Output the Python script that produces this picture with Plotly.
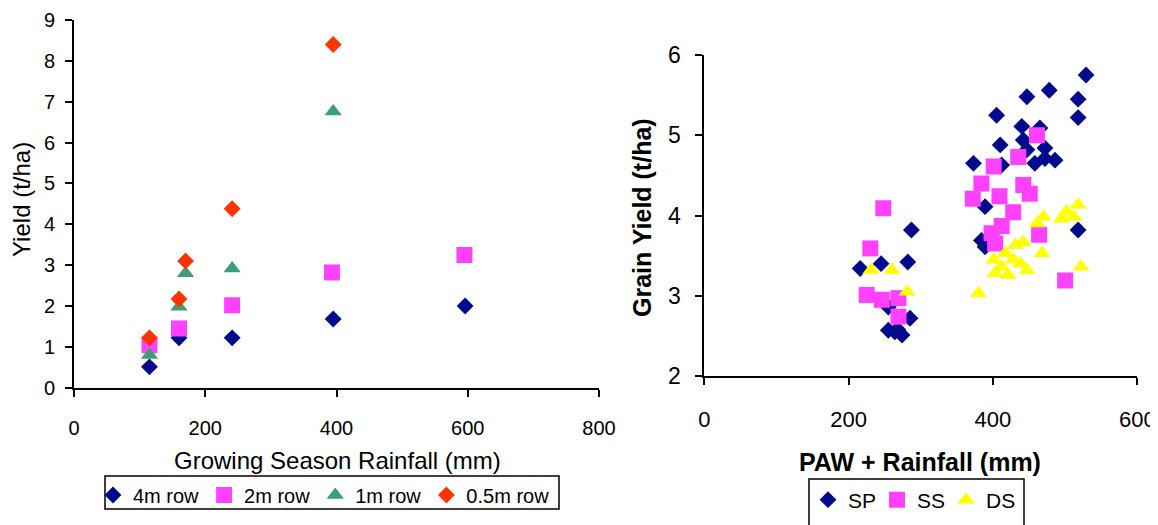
import plotly.graph_objects as go

# ---------------- Left chart data ----------------
left_names = ["4m row", "2m row", "1m row", "0.5m row"]
rain_4m = [115, 160, 241, 395, 596]
yield_4m = [0.51, 1.22, 1.22, 1.68, 2.0]
rain_2m = [115, 160, 241, 393, 595]
yield_2m = [1.04, 1.45, 2.02, 2.82, 3.25]
rain_1m = [115, 160, 170, 241, 395]
yield_1m = [0.8, 1.98, 2.8, 2.92, 6.76]
rain_05m = [115, 160, 170, 241, 395]
yield_05m = [1.22, 2.17, 3.1, 4.38, 8.4]
left_xticks = [0, 200, 400, 600, 800]
left_yticks = [0, 1, 2, 3, 4, 5, 6, 7, 8, 9]

# ---------------- Right chart data ----------------
right_names = ["SP", "SS", "DS"]
sp_x = [216, 245, 282, 287, 255, 285, 264, 255, 274, 268,
        529, 478, 447, 518, 518, 405, 440, 465, 442, 410, 472, 447,
        458, 486, 472, 373, 412, 389, 518, 384, 389, 395]
sp_y = [3.34, 3.40, 3.42, 3.82, 2.86, 2.72, 2.55, 2.57, 2.51, 2.58,
        5.75, 5.56, 5.48, 5.45, 5.22, 5.25, 5.11, 5.09, 4.94, 4.88, 4.84, 4.82,
        4.65, 4.69, 4.71, 4.65, 4.63, 4.11, 3.82, 3.69, 3.61, 3.66]
ss_x = [248, 230, 225, 246, 269, 269,
        461, 435, 401, 384, 372, 409, 442, 451, 428, 412, 398, 403, 464, 500]
ss_y = [4.09, 3.59, 3.01, 2.95, 2.97, 2.74,
        5.0, 4.73, 4.61, 4.40, 4.21, 4.24, 4.38, 4.27, 4.04, 3.87, 3.78, 3.65, 3.76, 3.19]
ds_x = [231, 260, 281,
        380, 518, 502, 512, 495, 470, 461, 522, 468, 442, 431, 417, 401,
        428, 447, 403, 421, 412, 438]
ds_y = [3.32, 3.32, 3.05,
        3.03, 4.13, 4.05, 3.98, 3.96, 3.98, 3.90, 3.36, 3.53, 3.67, 3.63, 3.53, 3.45,
        3.45, 3.32, 3.28, 3.26, 3.36, 3.40]
right_xticks = [0, 200, 400, 600]
right_yticks = [2, 3, 4, 5, 6]

FONT = "Arial, Liberation Sans, sans-serif"
NAVY = "#000A8C"
MAGENTA = "#FF40FF"
GREEN = "#3A9F74"
RED = "#FF3300"
YELLOW = "#FFFF00"

# The page body has an 8px margin, so the figure is 8px smaller and
# page pixel positions are converted to paper fractions here.
W, H, OFF = 1150, 517, 8


def fx(X):
    return (X - OFF) / W


def fy(Y):
    return (H - (Y - OFF)) / H


fig = go.Figure()

left_series = [
    (rain_4m, yield_4m, "diamond", NAVY, 13),
    (rain_2m, yield_2m, "square", MAGENTA, 16),
    (rain_1m, yield_1m, "triangle-up", GREEN, 15),
    (rain_05m, yield_05m, "diamond", RED, 13),
]
for name, (xs, ys, sym, col, sz) in zip(left_names, left_series):
    fig.add_trace(go.Scatter(x=xs, y=ys, mode="markers", name=name,
                             marker=dict(symbol=sym, color=col, size=sz, line=dict(width=0)),
                             xaxis="x", yaxis="y", legend="legend"))

right_series = [
    (sp_x, sp_y, "diamond", NAVY, 13),
    (ss_x, ss_y, "square", MAGENTA, 16),
    (ds_x, ds_y, "triangle-up", YELLOW, 15),
]
for name, (xs, ys, sym, col, sz) in zip(right_names, right_series):
    fig.add_trace(go.Scatter(x=xs, y=ys, mode="markers", name=name,
                             marker=dict(symbol=sym, color=col, size=sz, line=dict(width=0)),
                             xaxis="x2", yaxis="y2", legend="legend2"))

axis_common = dict(showline=True, linecolor="black", linewidth=2, showgrid=False,
                   zeroline=False, ticks="outside", ticklen=7, tickwidth=2,
                   tickcolor="black", automargin=False, ticklabeloverflow="allow")

fig.update_layout(
    width=W, height=H,
    margin=dict(l=0, r=0, t=0, b=0, autoexpand=False),
    paper_bgcolor="white", plot_bgcolor="white",
    font=dict(family=FONT, color="black"),
    xaxis=dict(domain=[fx(74), fx(599)], range=[0, 800], tickvals=left_xticks,
               tickfont=dict(size=20), ticklabelstandoff=14, anchor="y", **axis_common),
    yaxis=dict(domain=[fy(387.7), fy(20)], range=[0, 9], tickvals=left_yticks,
               tickfont=dict(size=20), ticklabelstandoff=6, anchor="x", **axis_common),
    xaxis2=dict(domain=[fx(704.3), fx(1137.3)], range=[0, 600], tickvals=right_xticks,
                tickfont=dict(size=22), ticklabelstandoff=16, anchor="y2", **axis_common),
    yaxis2=dict(domain=[fy(376), fy(55)], range=[2, 6], tickvals=right_yticks,
                tickfont=dict(size=23), ticklabelstandoff=10, anchor="x2", **axis_common),
    legend=dict(orientation="h", x=fx(93), xanchor="left", y=fy(495), yanchor="middle",
                font=dict(size=20), bgcolor="rgba(0,0,0,0)", borderwidth=0,
                itemclick=False),
    legend2=dict(orientation="h", x=fx(808), xanchor="left", y=fy(500), yanchor="middle",
                 font=dict(size=21), bgcolor="rgba(0,0,0,0)", borderwidth=0,
                 entrywidth=24, entrywidthmode="pixels", itemclick=False),
    annotations=[
        dict(text="Growing Season Rainfall (mm)", x=fx(337), y=fy(460),
             xref="paper", yref="paper", showarrow=False, font=dict(size=24),
             xanchor="center", yanchor="middle"),
        dict(text="Yield (t/ha)", x=fx(22), y=fy(200), textangle=-90,
             xref="paper", yref="paper", showarrow=False, font=dict(size=24),
             xanchor="center", yanchor="middle"),
        dict(text="<b>Grain Yield (t/ha)</b>", x=fx(642), y=fy(218), textangle=-90,
             xref="paper", yref="paper", showarrow=False, font=dict(size=25),
             xanchor="center", yanchor="middle"),
        dict(text="<b>PAW + Rainfall (mm)</b>", x=fx(920), y=fy(462),
             xref="paper", yref="paper", showarrow=False, font=dict(size=25),
             xanchor="center", yanchor="middle"),
    ],
    shapes=[
        dict(type="rect", xref="paper", yref="paper", x0=fx(105), x1=fx(559),
             y0=fy(509), y1=fy(476), line=dict(color="black", width=1.5)),
        dict(type="rect", xref="paper", yref="paper", x0=fx(809), x1=fx(1024),
             y0=-0.1, y1=fy(479), line=dict(color="black", width=1.5)),
    ],
)

fig.write_html("out.html")
